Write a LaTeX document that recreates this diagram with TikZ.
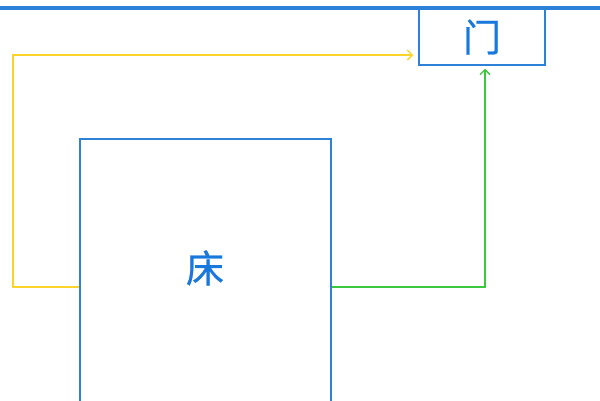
\documentclass[tikz,border=0pt]{standalone}
\usepackage{fontspec}
\newfontfamily\cjk[FakeBold=0.6]{Noto Sans CJK SC}
\usetikzlibrary{calc,arrows.meta}
\definecolor{planblue}{RGB}{45,130,215}
\definecolor{wordblue}{RGB}{25,120,220}
\definecolor{pathyellow}{RGB}{250,212,40}
\definecolor{pathgreen}{RGB}{60,200,60}
\tikzset{
	room/.style={draw=planblue, line width=1.5pt, inner sep=0pt, font=\cjk\fontsize{38}{38}\selectfont, text=wordblue},
	walk/.style={line width=1.3pt, -{Straight Barb[length=5pt, width=10pt]}},
}

\begin{document}
\begin{tikzpicture}[x=1pt, y=-1pt]
		%%%%% START %%%%%
		\useasboundingbox (0, 0) rectangle (600, 400);
		\fill[white] (0, 0) rectangle (600, 400);
		
		\draw[line width=3.5pt, color=planblue] (0, 8) -- (600, 8);
		
		\node[room, minimum width=126pt, minimum height=56pt] (door) at (482, 37) {门};
		\node[room, minimum width=251pt, minimum height=290pt, anchor=north west] (bed) at (79, 138) {};
		\node[inner sep=0pt, font=\cjk\fontsize{38}{38}\selectfont, text=wordblue] (bedname) at (205, 268) {床};
		
		\coordinate (leftturn) at (13, 287);
		\coordinate (rightturn) at (485, 287);
		
		\draw[walk, color=pathyellow, shorten >=5pt] (bed.west |- leftturn) -- (leftturn) |- ([yshift=-18pt]door.west);
		\draw[walk, color=pathgreen, shorten >=3pt] (bed.east |- rightturn) -- (rightturn) -- (rightturn |- door.south);
		
		%%%%% END %%%%%
	\end{tikzpicture}
\end{document}
